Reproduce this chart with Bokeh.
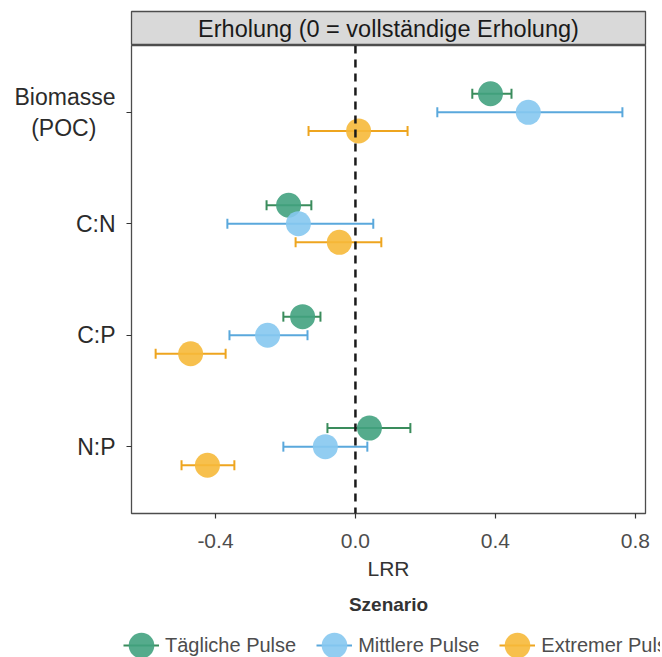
from bokeh.plotting import figure
from bokeh.models import (ColumnDataSource, FixedTicker, NumeralTickFormatter, Span,
                          Legend, LegendItem, Title, Label)
from bokeh.layouts import column
from bokeh.embed import file_html
from bokeh.resources import INLINE

# ---- data ----
categories = ["Biomasse\n(POC)\u00a0\u00a0\u00a0", "C:N", "C:P", "N:P"]   # top to bottom
scenarios = ["Tägliche Pulse", "Mittlere Pulse", "Extremer Pulse"]

taeglich_mean = [0.386, -0.191, -0.151, 0.040]
taeglich_lo = [0.334, -0.254, -0.206, -0.080]
taeglich_hi = [0.446, -0.126, -0.100, 0.157]

mittlere_mean = [0.494, -0.163, -0.251, -0.086]
mittlere_lo = [0.234, -0.366, -0.360, -0.206]
mittlere_hi = [0.763, 0.051, -0.137, 0.034]

extrem_mean = [0.009, -0.046, -0.471, -0.423]
extrem_lo = [-0.134, -0.171, -0.571, -0.497]
extrem_hi = [0.149, 0.074, -0.371, -0.346]

x_ticks = [-0.4, 0.0, 0.4, 0.8]

point_colors = ["#42a27f", "#86c8ef", "#f6b93a"]
line_colors = ["#3a8c5c", "#5aa8dc", "#eea51f"]

FONT = "Liberation Sans"

series = [
    (taeglich_mean, taeglich_lo, taeglich_hi),
    (mittlere_mean, mittlere_lo, mittlere_hi),
    (extrem_mean, extrem_lo, extrem_hi),
]
dodge = [1 / 6, 0.0, -1 / 6]
n = len(categories)
cat_pos = [n - i for i in range(n)]  # Biomasse at top

# ---- strip figure ----
strip = figure(frame_width=514, frame_height=34, x_range=(0, 1), y_range=(0, 1),
               output_backend="svg", toolbar_location=None,
               min_border_left=131, min_border_right=9, min_border_top=11,
               min_border_bottom=0)
strip.axis.visible = False
strip.grid.visible = False
strip.background_fill_color = "#d9d9d9"
strip.border_fill_color = "white"
strip.outline_line_color = "#4d4d4d"
strip.outline_line_width = 1.3
strip.add_layout(Label(x=0.5, y=0.5, text="Erholung (0 = vollständige Erholung)",
                       text_align="center", text_baseline="middle",
                       text_font=FONT, text_font_size="23.5px", text_color="#1a1a1a"))

# ---- main figure ----
p = figure(frame_width=514, frame_height=468, x_range=(-0.64, 0.829), y_range=(0.4, 4.6),
           output_backend="svg", toolbar_location=None,
           min_border_left=131, min_border_right=9, min_border_top=0,
           min_border_bottom=0)
p.grid.visible = False
p.outline_line_color = "#4d4d4d"
p.outline_line_width = 1.3
p.background_fill_color = "white"

p.add_layout(Span(location=0, dimension="height", line_color="#1a1a1a",
                  line_width=2.5, line_dash="8 6"))

# ---- legend strip (its renderers share the data but lie outside its view) ----
leg = figure(frame_width=660, frame_height=39, x_range=(50, 51), y_range=(50, 51),
             output_backend="svg", toolbar_location=None,
             min_border_left=0, min_border_right=0, min_border_top=0,
             min_border_bottom=0)
leg.axis.visible = False
leg.grid.visible = False
leg.outline_line_color = None

items = []
for k, (mean, lo, hi) in enumerate(series):
    ys = [c + dodge[k] for c in cat_pos]
    src = ColumnDataSource(dict(
        y=ys, mean=mean, lo=lo, hi=hi,
        cap_b=[y - 0.045 for y in ys], cap_t=[y + 0.045 for y in ys]))
    p.segment(x0="lo", y0="y", x1="hi", y1="y", source=src,
              line_color=line_colors[k], line_width=2)
    p.segment(x0="lo", y0="cap_b", x1="lo", y1="cap_t", source=src,
              line_color=line_colors[k], line_width=2)
    p.segment(x0="hi", y0="cap_b", x1="hi", y1="cap_t", source=src,
              line_color=line_colors[k], line_width=2)
    p.ellipse(x="mean", y="y", width=25, height=25, width_units="screen",
              height_units="screen", source=src,
              fill_color=point_colors[k], fill_alpha=0.9, line_color=None)
    lseg = leg.segment(x0="lo", y0="y", x1="hi", y1="y", source=src,
                       line_color=line_colors[k], line_width=2)
    lsc = leg.ellipse(x="mean", y="y", width=25, height=25, width_units="screen",
                      height_units="screen", source=src,
                      fill_color=point_colors[k], fill_alpha=0.9, line_color=None)
    items.append(LegendItem(label=scenarios[k], renderers=[lseg, lsc]))

# axes
p.xaxis.ticker = FixedTicker(ticks=x_ticks)
p.xaxis.formatter = NumeralTickFormatter(format="0.0")
p.xaxis.axis_label = "LRR"
p.yaxis.ticker = FixedTicker(ticks=cat_pos)
p.yaxis.major_label_overrides = {cat_pos[i]: categories[i] for i in range(n)}
for ax in (p.xaxis, p.yaxis):
    ax.axis_line_color = None
    ax.minor_tick_line_color = None
    ax.major_tick_in = 0
    ax.major_tick_out = 5
    ax.major_tick_line_color = "#333333"
    ax.major_tick_line_width = 1.2
    ax.major_label_text_font = FONT
    ax.axis_label_text_font = FONT
    ax.axis_label_text_font_style = "normal"
    ax.axis_label_text_color = "#333333"
p.xaxis.major_label_text_font_size = "21px"
p.xaxis.axis_label_text_font_size = "21px"
p.yaxis.major_label_text_font_size = "23px"
p.xaxis.major_label_text_color = "#4d4d4d"
p.yaxis.major_label_text_color = "#2b2b2b"
p.xaxis.major_label_standoff = 15
p.xaxis.axis_label_standoff = 6
p.yaxis.major_label_standoff = 11

p.add_layout(Title(text="Szenario", align="center", text_font=FONT,
                   text_font_size="19px", text_font_style="bold",
                   text_color="#333333", standoff=19), "below")

legend = Legend(items=items, orientation="horizontal", location=(123, 2),
                label_text_font=FONT, label_text_font_size="20px",
                label_text_color="#4d4d4d", glyph_width=36, glyph_height=32,
                label_standoff=6, spacing=20, padding=2, margin=0,
                border_line_color=None, background_fill_alpha=0)
leg.add_layout(legend, "center")

layout = column(strip, p, leg, spacing=0)
open("out.html", "w").write(file_html(layout, INLINE))
